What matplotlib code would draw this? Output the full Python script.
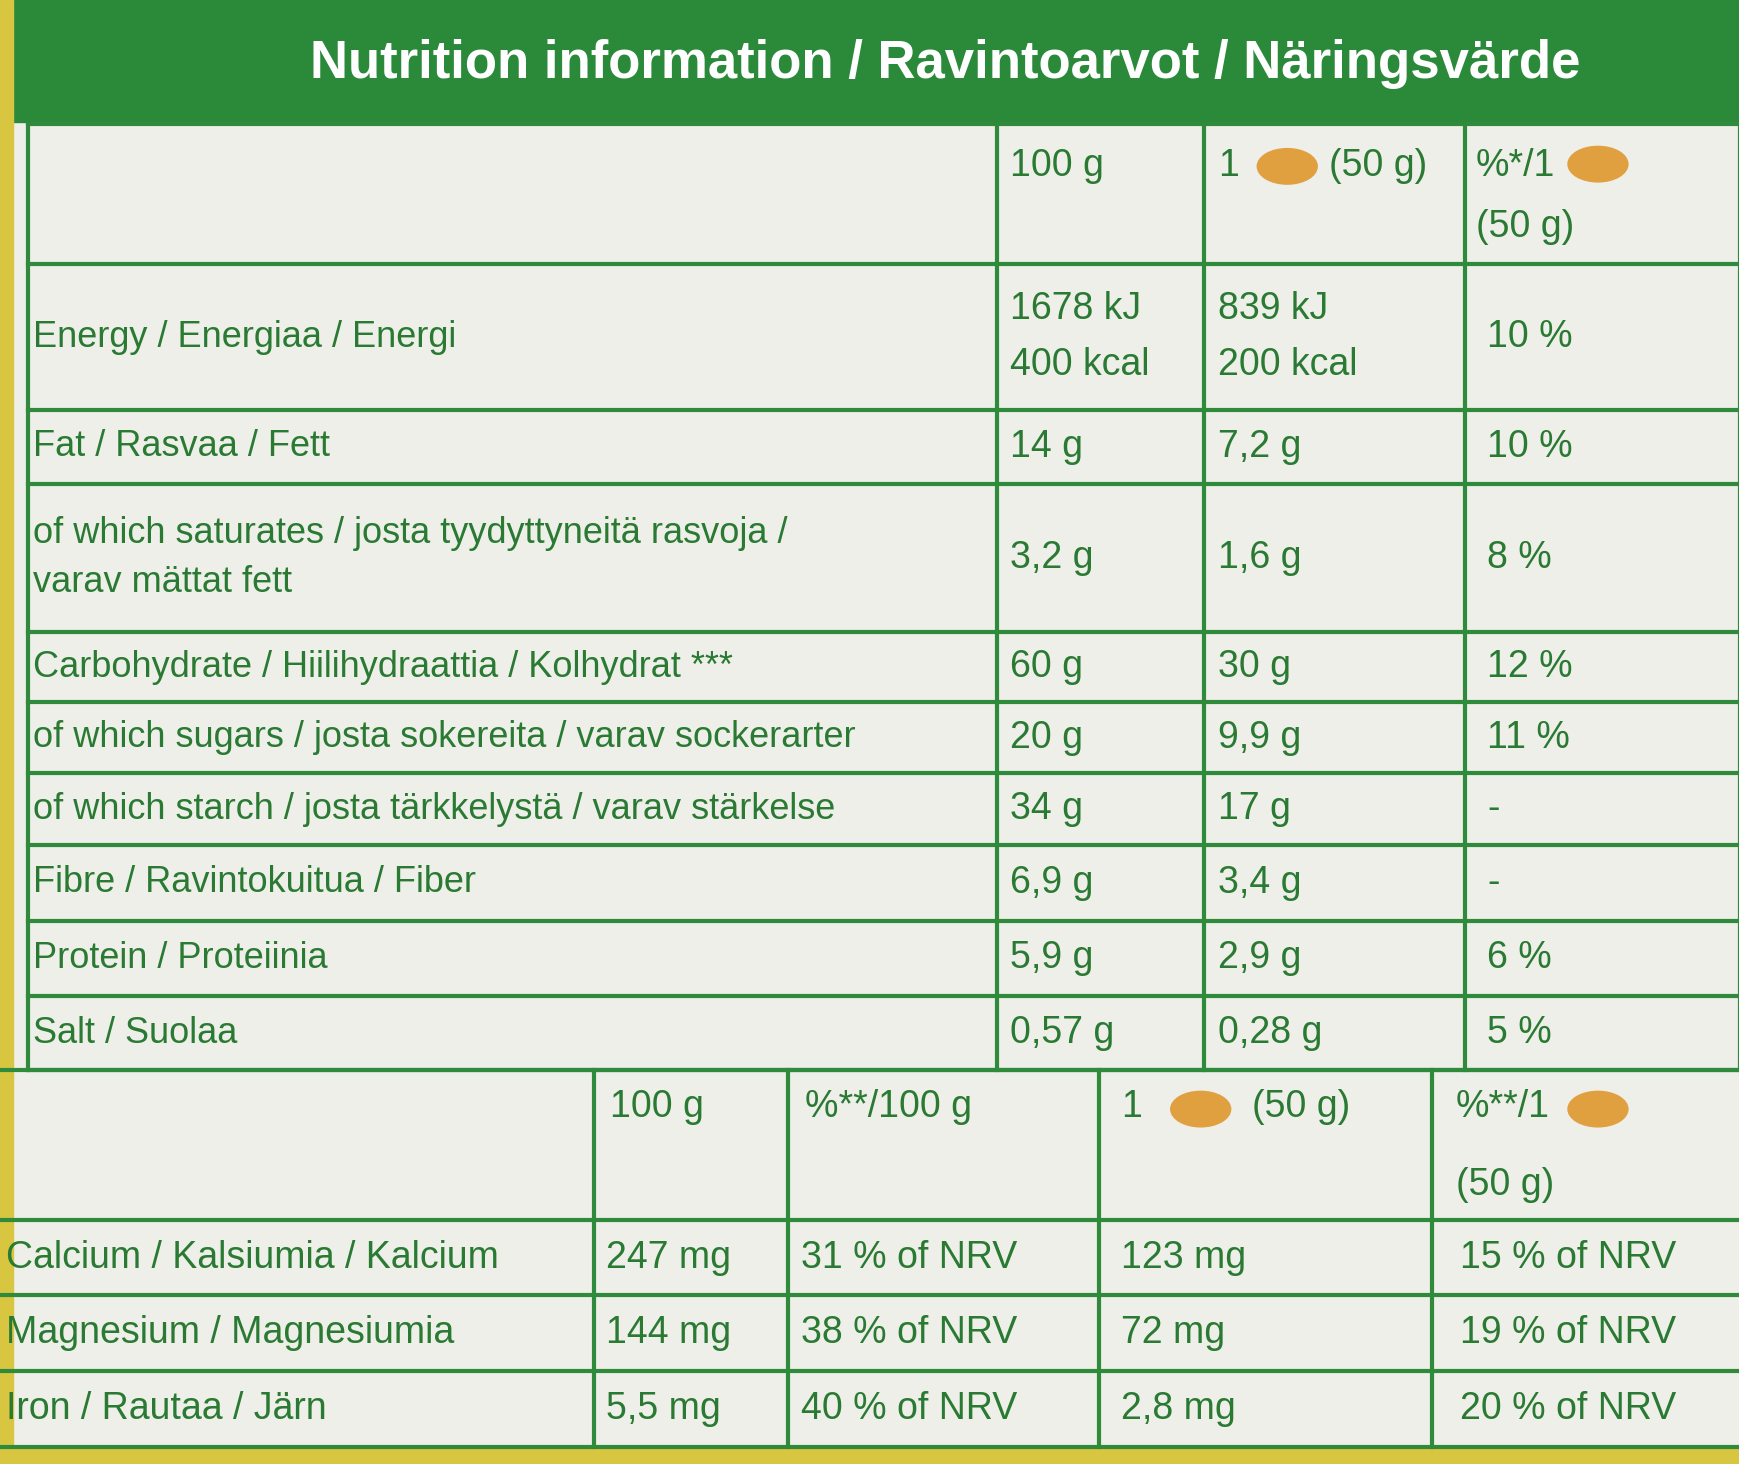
import matplotlib
matplotlib.use("Agg")
import matplotlib.pyplot as plt
from matplotlib.patches import Rectangle, Ellipse

title = "Nutrition information / Ravintoarvot / Näringsvärde"

top_labels = ["Energy / Energiaa / Energi", "Fat / Rasvaa / Fett",
              "of which saturates / josta tyydyttyneitä rasvoja /\nvarav mättat fett",
              "Carbohydrate / Hiilihydraattia / Kolhydrat ***",
              "of which sugars / josta sokereita / varav sockerarter",
              "of which starch / josta tärkkelystä / varav stärkelse",
              "Fibre / Ravintokuitua / Fiber", "Protein / Proteiinia", "Salt / Suolaa"]
top_100g = ["1678 kJ\n400 kcal", "14 g", "3,2 g", "60 g", "20 g", "34 g", "6,9 g", "5,9 g", "0,57 g"]
top_50g = ["839 kJ\n200 kcal", "7,2 g", "1,6 g", "30 g", "9,9 g", "17 g", "3,4 g", "2,9 g", "0,28 g"]
top_pct = ["10 %", "10 %", "8 %", "12 %", "11 %", "-", "-", "6 %", "5 %"]

bot_labels = ["Calcium / Kalsiumia / Kalcium", "Magnesium / Magnesiumia", "Iron / Rautaa / Järn"]
bot_100g = ["247 mg", "144 mg", "5,5 mg"]
bot_pct100 = ["31 % of NRV", "38 % of NRV", "40 % of NRV"]
bot_50g = ["123 mg", "72 mg", "2,8 mg"]
bot_pct50 = ["15 % of NRV", "19 % of NRV", "20 % of NRV"]

GREEN = "#2f8a3c"
TXT = "#2a7a33"
BG = "#eeefe9"
ORANGE = "#e0a040"
FAM = ["Liberation Sans", "DejaVu Sans"]

fig = plt.figure(figsize=(17.4, 14.64), dpi=100)
ax = fig.add_axes([0, 0, 1, 1])
ax.set_xlim(0, 1568); ax.set_ylim(1320, 0); ax.axis("off")
ax.add_patch(Rectangle((0, 0), 1568, 1320, color=BG))
ax.add_patch(Rectangle((0, 0), 1568, 110, color="#2b8a3a"))
ax.add_patch(Rectangle((0, 1305), 1568, 15, color="#d8c640"))
ax.add_patch(Rectangle((0, 0), 12, 1305, color="#d8c640"))
ax.text(852, 58, title, color="white", fontsize=38, fontweight="bold", ha="center", va="center", family=FAM)

lw = 3
ty = [112, 238, 370, 436, 570, 633, 697, 762, 830, 898, 965]
tx = [25, 898, 1085, 1320, 1568]
for y in ty:
    ax.plot([tx[0], tx[-1]], [y, y], color=GREEN, lw=lw)
for x in tx:
    ax.plot([x, x], [ty[0], ty[-1]], color=GREEN, lw=lw)
fs = 27
def blob(x, y):
    ax.add_patch(Ellipse((x, y), 54, 32, color=ORANGE))
ax.text(910, 150, "100 g", color=TXT, fontsize=fs, va="center", family=FAM)
ax.text(1098, 150, "1", color=TXT, fontsize=fs, va="center", family=FAM)
blob(1160, 150)
ax.text(1198, 150, "(50 g)", color=TXT, fontsize=fs, va="center", family=FAM)
ax.text(1330, 150, "%*/1", color=TXT, fontsize=fs, va="center", family=FAM)
blob(1440, 148)
ax.text(1330, 205, "(50 g)", color=TXT, fontsize=fs, va="center", family=FAM)
for i in range(len(top_labels)):
    yc = (ty[i + 1] + ty[i + 2]) / 2
    ax.text(30, yc, top_labels[i], color=TXT, fontsize=fs - 1, va="center", family=FAM, linespacing=1.5)
    ax.text(910, yc, top_100g[i], color=TXT, fontsize=fs, va="center", family=FAM, linespacing=1.7)
    ax.text(1098, yc, top_50g[i], color=TXT, fontsize=fs, va="center", family=FAM, linespacing=1.7)
    ax.text(1340, yc, top_pct[i], color=TXT, fontsize=fs, va="center", family=FAM)

by = [965, 1100, 1168, 1236, 1305]
bx = [0, 535, 710, 990, 1290, 1568]
for y in by:
    ax.plot([0, 1568], [y, y], color=GREEN, lw=lw)
for x in bx[1:-1]:
    ax.plot([x, x], [by[0], by[-1]], color=GREEN, lw=lw)
ax.text(550, 998, "100 g", color=TXT, fontsize=fs, va="center", family=FAM)
ax.text(725, 998, "%**/100 g", color=TXT, fontsize=fs, va="center", family=FAM)
ax.text(1010, 998, "1", color=TXT, fontsize=fs, va="center", family=FAM)
blob(1082, 1000)
ax.text(1128, 998, "(50 g)", color=TXT, fontsize=fs, va="center", family=FAM)
ax.text(1312, 998, "%**/1", color=TXT, fontsize=fs, va="center", family=FAM)
blob(1440, 1000)
ax.text(1312, 1068, "(50 g)", color=TXT, fontsize=fs, va="center", family=FAM)
cols = [bot_labels, bot_100g, bot_pct100, bot_50g, bot_pct50]
xs = [5, 546, 722, 1010, 1316]
for i in range(3):
    yc = (by[i + 1] + by[i + 2]) / 2
    for c, x in zip(cols, xs):
        ax.text(x, yc, c[i], color=TXT, fontsize=fs, va="center", family=FAM)

fig.savefig("out.png", dpi=100)
